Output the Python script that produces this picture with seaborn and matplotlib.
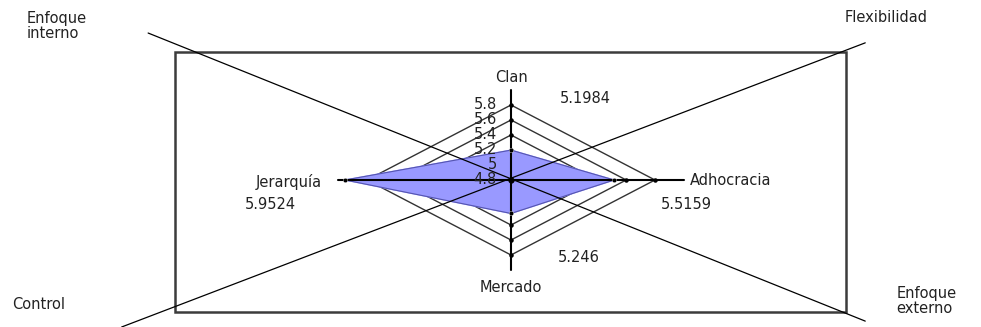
import numpy as np
import matplotlib
matplotlib.use("Agg")
import matplotlib.pyplot as plt
import seaborn as sns

# radar data
categories = ["Clan", "Adhocracia", "Mercado", "Jerarquía"]
values = [5.1984, 5.5159, 5.246, 5.9524]
value_labels = ["5.1984", "5.5159", "5.246", "5.9524"]
ring_ticks = [5.0, 5.2, 5.4, 5.6, 5.8]
tick_values = [4.8, 5.0, 5.2, 5.4, 5.6, 5.8]
tick_labels = ["4.8", "5", "5.2", "5.4", "5.6", "5.8"]
r_min, r_max = 4.8, 6.0
corner_labels = ["Enfoque\ninterno", "Flexibilidad", "Control", "Enfoque\nexterno"]

# Clan up, Adhocracia right, Mercado down, Jerarquía left
angles = np.deg2rad([90, 0, 270, 180])


def to_xy(r, ang):
    r = np.asarray(r, dtype=float) - r_min
    return r * np.cos(ang), r * np.sin(ang)


sns.set_style("white")
plt.rcParams["font.family"] = ["DejaVu Sans"]
fs = 10.5

fig = plt.figure(figsize=(9.81, 3.27), dpi=100)
ax = fig.add_axes([0, 0, 1, 1])
# center of radar sits at ~(511, 180) px, 144 px/unit across, 75 px/unit up
ax.set_xlim(-511 / 144, 470 / 144)
ax.set_ylim(-147 / 75, 180 / 75)
ax.axis("off")

# frame and crossing lines (decoration, axes fractions)
ax.add_patch(plt.Rectangle((0.178, 0.046), 0.684, 0.795, transform=ax.transAxes,
                           fill=False, edgecolor="#3c3c3c", lw=1.8, zorder=1))
ax.plot([0.151, 0.882], [0.899, 0.018], transform=ax.transAxes, color="black", lw=0.9, zorder=5)
ax.plot([0.124, 0.882], [0.0, 0.869], transform=ax.transAxes, color="black", lw=0.9, zorder=5)

# rings
closed = np.append(angles, angles[0])
for t in ring_ticks:
    xs, ys = to_xy(np.full(len(closed), t), closed)
    ax.plot(xs, ys, color="#333333", lw=1, zorder=2)

# ring marks on the spokes (hidden under the polygon, like the rings)
for ang in angles:
    tx, ty = to_xy(ring_ticks, ang)
    ax.scatter(tx, ty, s=5, color="black", zorder=2.5)

# data polygon
vals_closed = np.append(values, values[0])
px, py = to_xy(vals_closed, closed)
ax.fill(px, py, color="#9999ff", zorder=3)
sns.lineplot(x=px, y=py, sort=False, estimator=None, color="#5555b0", lw=0.8, ax=ax, zorder=4)

# spokes
for ang in angles:
    sx, sy = to_xy([r_min, r_max], ang)
    ax.plot(sx, sy, color="black", lw=1.5, zorder=6)
vx, vy = to_xy(values, angles)
sns.scatterplot(x=vx, y=vy, s=10, color="black", ax=ax, zorder=7, legend=False)
ax.scatter([0], [0], s=12, color="black", zorder=7)

# radial tick labels along the Clan spoke
for v, lab in zip(tick_values, tick_labels):
    ax.text(-0.097, v - r_min, lab, ha="right", va="center", fontsize=fs, color="#222222", zorder=8)

# category and value labels (data units)
cat_pos = [(0, 1.373, "center"), (1.243, -0.013, "left"), (0, -1.44, "center"), (-1.3125, -0.027, "right")]
val_pos = [(0.514, 1.093), (1.215, -0.333), (0.472, -1.027), (-1.674, -0.333)]
for name, (cx, cy, ha), lab, (lx, ly) in zip(categories, cat_pos, value_labels, val_pos):
    ax.text(cx, cy, name, ha=ha, va="center", fontsize=fs, color="#222222")
    ax.text(lx, ly, lab, ha="center", va="center", fontsize=fs, color="#222222")

# corner labels
fig.text(0.0275, 0.965, corner_labels[0], ha="left", va="top", fontsize=fs, linespacing=1.0, color="#222222")
fig.text(0.861, 0.948, corner_labels[1], ha="left", va="center", fontsize=fs, color="#222222")
fig.text(0.012, 0.07, corner_labels[2], ha="left", va="center", fontsize=fs, color="#222222")
fig.text(0.914, 0.125, corner_labels[3], ha="left", va="top", fontsize=fs, linespacing=1.0, color="#222222")

fig.savefig("out.png", dpi=100)
